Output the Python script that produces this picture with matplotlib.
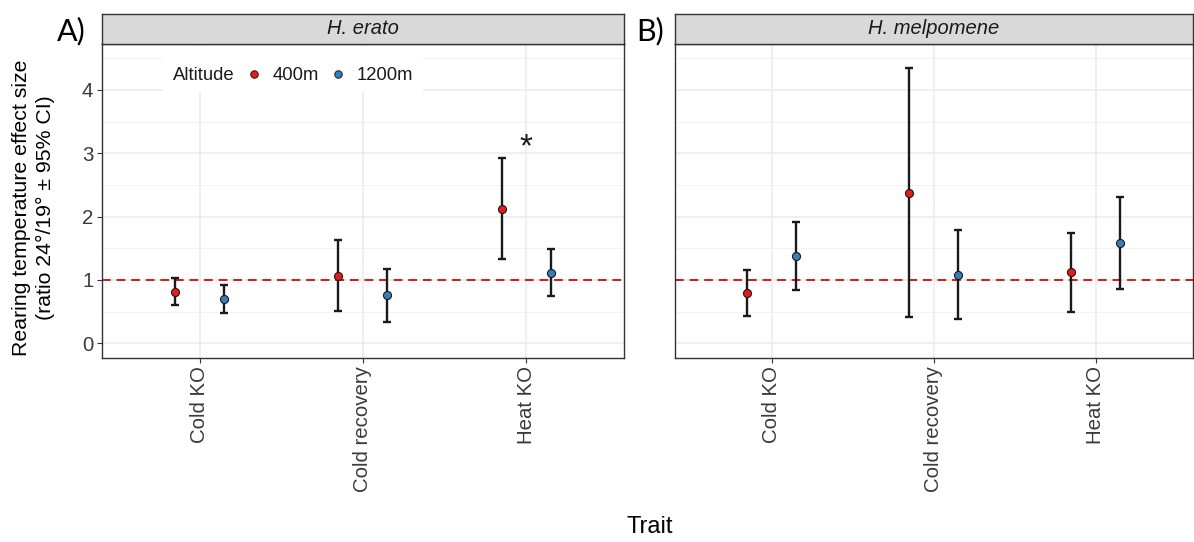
import numpy as np
import matplotlib
matplotlib.use("Agg")
from matplotlib import pyplot as plt
from matplotlib.lines import Line2D
from matplotlib.patches import Rectangle

plt.rcParams['font.family'] = ['Liberation Sans', 'DejaVu Sans']

traits = ["Cold KO", "Cold recovery", "Heat KO"]
altitudes = ["400m", "1200m"]
colors = ["#E41A1C", "#377EB8"]

# H. erato
erato_400_mean = [0.816, 1.063, 2.126]
erato_400_low = [0.605, 0.505, 1.33]
erato_400_high = [1.026, 1.626, 2.92]
erato_1200_mean = [0.70, 0.758, 1.116]
erato_1200_low = [0.484, 0.337, 0.742]
erato_1200_high = [0.92, 1.179, 1.484]

# H. melpomene
melp_400_mean = [0.79, 2.374, 1.121]
melp_400_low = [0.426, 0.41, 0.50]
melp_400_high = [1.163, 4.342, 1.747]
melp_1200_mean = [1.374, 1.079, 1.579]
melp_1200_low = [0.837, 0.379, 0.858]
melp_1200_high = [1.916, 1.784, 2.305]

star_trait = "Heat KO"
star_y = 3.08

fig = plt.figure(figsize=(11.94, 5.42), dpi=100)

panel_bottom = 1 - 357.6 / 542
panel_h = (357.6 - 44) / 542
strip_h = 30 / 542
axA = fig.add_axes([101.7 / 1194, panel_bottom, (624 - 101.7) / 1194, panel_h])
axB = fig.add_axes([674.5 / 1194, panel_bottom, (1193 - 674.5) / 1194, panel_h])

dodge = 0.15
x = np.arange(1, len(traits) + 1)

panels = [
    (axA, "H. erato",
     [(erato_400_mean, erato_400_low, erato_400_high),
      (erato_1200_mean, erato_1200_low, erato_1200_high)]),
    (axB, "H. melpomene",
     [(melp_400_mean, melp_400_low, melp_400_high),
      (melp_1200_mean, melp_1200_low, melp_1200_high)]),
]

for ax, title, series in panels:
    ax.set_xlim(0.4, 3.6)
    ax.set_ylim(-0.225, 4.725)
    ax.set_yticks([0, 1, 2, 3, 4])
    ax.set_yticks([0.5, 1.5, 2.5, 3.5, 4.5], minor=True)
    ax.set_xticks(x)
    ax.set_xticklabels(traits, rotation=90, ha='center', va='top')
    ax.grid(True, which='major', color='#EBEBEB', lw=1.1, zorder=0)
    ax.grid(True, which='minor', axis='y', color='#F2F2F2', lw=0.7, zorder=0)
    ax.set_axisbelow(True)
    for sp in ax.spines.values():
        sp.set_color('#333333')
        sp.set_linewidth(1.0)
    ax.tick_params(which='major', length=3.5, width=0.8, color='#333333',
                   labelsize=14.7, labelcolor='#3A3A3A', pad=2.5)
    ax.tick_params(which='minor', length=0)
    ax.axhline(1, color='#D7191C', lw=1.4, dashes=(4.5, 3), zorder=2)

    for i, (m, lo, hi) in enumerate(series):
        xs = x + (i * 2 - 1) * dodge
        m = np.array(m)
        err = [m - np.array(lo), np.array(hi) - m]
        ax.errorbar(xs, m, yerr=err, fmt='none', ecolor='#1A1A1A',
                    elinewidth=1.7, capsize=3.0, capthick=1.7, zorder=3)
        ax.plot(xs, m, 'o', ms=5.8, mfc=colors[i], mec='#1A1A1A',
                mew=0.8, ls='none', zorder=4)

    pos = ax.get_position()
    sax = fig.add_axes([pos.x0, pos.y1, pos.width, strip_h])
    sax.set_xticks([])
    sax.set_yticks([])
    sax.set_facecolor('#D9D9D9')
    for sp in sax.spines.values():
        sp.set_color('#333333')
        sp.set_linewidth(1.0)
    sax.text(0.5, 0.5, title, style='italic', fontsize=14.5, color='#1A1A1A',
             ha='center', va='center', transform=sax.transAxes)

axB.tick_params(axis='y', which='both', left=False, labelleft=False)

# significance star
axA.text(traits.index(star_trait) + 1, star_y, "*", fontsize=24,
         ha='center', va='center', color='#1A1A1A', zorder=5)

# legend inside panel A
axA.add_patch(Rectangle((0.775, 3.97), 2.369 - 0.775, 0.73, facecolor='white',
                        edgecolor='none', zorder=1.5))
axA.text(0.836, 4.22, "Altitude", fontsize=13.3, ha='left', va='center',
         color='#1A1A1A', zorder=5)
handles = [Line2D([], [], ls='none', marker='o', ms=5.4, mfc=c, mec='#1A1A1A',
                  mew=0.7) for c in colors]
axA.legend(handles, altitudes, loc='center left', bbox_to_anchor=(1.276, 4.22),
           bbox_transform=axA.transData, ncol=2, frameon=False, fontsize=13.3,
           handlelength=1.0, handletextpad=0.5, columnspacing=0.55,
           borderpad=0, borderaxespad=0, labelcolor='#1A1A1A')

# y axis title
fig.text(22 / 1194, 1 - 208 / 542, "Rearing temperature effect size",
         rotation=90, ha='center', va='center', fontsize=15.3)
fig.text(45 / 1194, 1 - 208 / 542, "(ratio 24°/19° ± 95% CI)",
         rotation=90, ha='center', va='center', fontsize=15.3)

# x axis title
fig.text(650 / 1194, 1 - 527 / 542, "Trait", ha='center', va='center',
         fontsize=17)

# panel labels
fig.text(57 / 1194, 1 - 31 / 542, "A)", ha='left', va='center', fontsize=22,
         family=['Lato', 'DejaVu Sans'])
fig.text(636 / 1194, 1 - 31 / 542, "B)", ha='left', va='center', fontsize=22,
         family=['Lato', 'DejaVu Sans'])

fig.savefig("out.png", dpi=100, facecolor='white')
